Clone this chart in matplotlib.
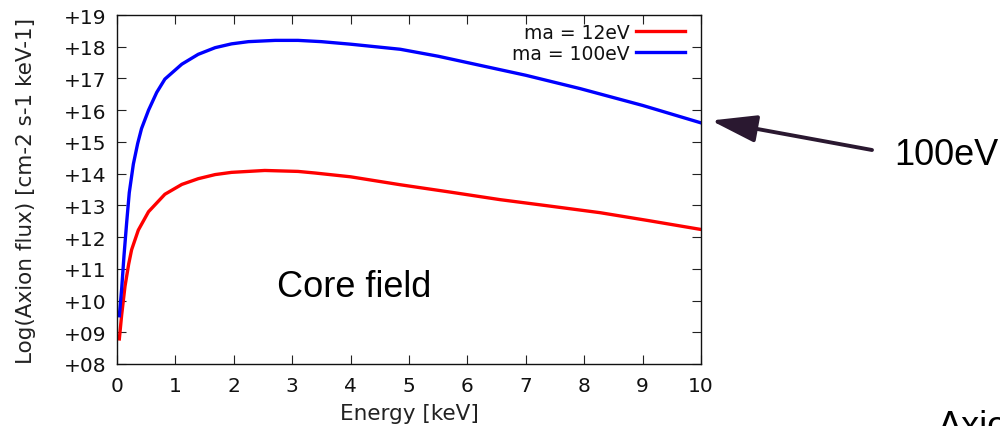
import matplotlib
matplotlib.use("Agg")
import matplotlib.pyplot as plt
from matplotlib.patches import FancyArrowPatch

# ---- data ----
energy_100 = [0.04, 0.08, 0.12, 0.166, 0.21, 0.28, 0.354, 0.42, 0.54, 0.68, 0.82, 1.11,
              1.39, 1.68, 1.96, 2.25, 2.71, 3.1, 3.5, 4.0, 4.85, 5.5, 6.0, 7.0, 7.93, 9.0, 10.0]
flux_100 = [9.52, 10.37, 11.42, 12.47, 13.4, 14.3, 14.95, 15.42, 16.0, 16.56, 16.98, 17.45,
            17.76, 17.97, 18.09, 18.16, 18.2, 18.2, 18.16, 18.08, 17.92, 17.7, 17.5, 17.1,
            16.68, 16.15, 15.6]

energy_12 = [0.04, 0.08, 0.137, 0.2, 0.25, 0.365, 0.54, 0.82, 1.11, 1.39, 1.68, 1.96,
             2.53, 3.1, 3.39, 4.0, 4.85, 5.7, 6.56, 7.4, 8.27, 9.1, 10.0]
flux_12 = [8.79, 9.55, 10.45, 11.15, 11.6, 12.22, 12.8, 13.35, 13.66, 13.84, 13.97, 14.04,
           14.1, 14.07, 14.02, 13.9, 13.65, 13.42, 13.18, 12.98, 12.77, 12.52, 12.24]

series_labels = ["ma = 12eV", "ma = 100eV"]
x_ticks = [0, 1, 2, 3, 4, 5, 6, 7, 8, 9, 10]
y_ticks = [8, 9, 10, 11, 12, 13, 14, 15, 16, 17, 18, 19]
y_tick_labels = ["+08", "+09", "+10", "+11", "+12", "+13", "+14", "+15", "+16", "+17", "+18", "+19"]
x_label = "Energy [keV]"
y_label = "Log(Axion flux) [cm-2 s-1 keV-1]"

W, H = 1000, 427
fig = plt.figure(figsize=(W / 100, H / 100), dpi=100)
ax = fig.add_axes([117 / W, 1 - 365 / H, (701 - 117) / W, (365 - 16) / H])

ax.plot(energy_12, flux_12, color="#ff0000", lw=2.4, label=series_labels[0],
        solid_joinstyle="round")
ax.plot(energy_100, flux_100, color="#0000ff", lw=2.4, label=series_labels[1],
        solid_joinstyle="round")

ax.set_xlim(0, 10)
ax.set_ylim(8, 19)
ax.set_xticks(x_ticks)
ax.set_yticks(y_ticks)
ax.set_yticklabels(y_tick_labels)
ax.tick_params(direction="in", length=6.5, width=0.8, top=True, right=True,
               labelsize=14.5, colors="#222222", labelcolor="#111111")
ax.tick_params(axis="y", pad=7.5)
ax.tick_params(axis="x", pad=9)
for s in ax.spines.values():
    s.set_linewidth(1.0)
    s.set_color("#111111")

ax.set_xlabel(x_label, fontsize=15.5, color="#222222")
ax.xaxis.set_label_coords(0.5, -(404 - 365) / 349)
ax.set_ylabel(y_label, fontsize=15.5, color="#222222")
ax.yaxis.set_label_coords(-(117 - 36) / 584, 0.5)

leg = ax.legend(loc="upper right", bbox_to_anchor=(685 / W, 1 - 24 / H),
                bbox_transform=fig.transFigure, frameon=False, markerfirst=False,
                fontsize=13.5, handlelength=2.6, handletextpad=0.35, labelspacing=0.1,
                borderpad=0, borderaxespad=0)
for t in leg.get_texts():
    t.set_color("#111111")

fig.text(277 / W, 1 - 297 / H, "Core field", fontsize=26, family="Liberation Sans",
         ha="left", va="baseline", color="black")
fig.text(894 / W, 1 - 165 / H, "100eV", fontsize=26, family="Liberation Sans",
         ha="left", va="baseline", color="black")
fig.text(938 / W, 1 - 437 / H, "Axion", fontsize=26, family="Liberation Sans",
         ha="left", va="baseline", color="black")

fig.patches.append(FancyArrowPatch(
    (872 / W, 1 - 151 / H), (711 / W, 1 - 121.5 / H), transform=fig.transFigure,
    arrowstyle="-|>,head_length=2.0,head_width=0.6", lw=2.8, color="#2a1830",
    shrinkA=0, shrinkB=0, mutation_scale=14))

fig.savefig("out.png", dpi=100)
